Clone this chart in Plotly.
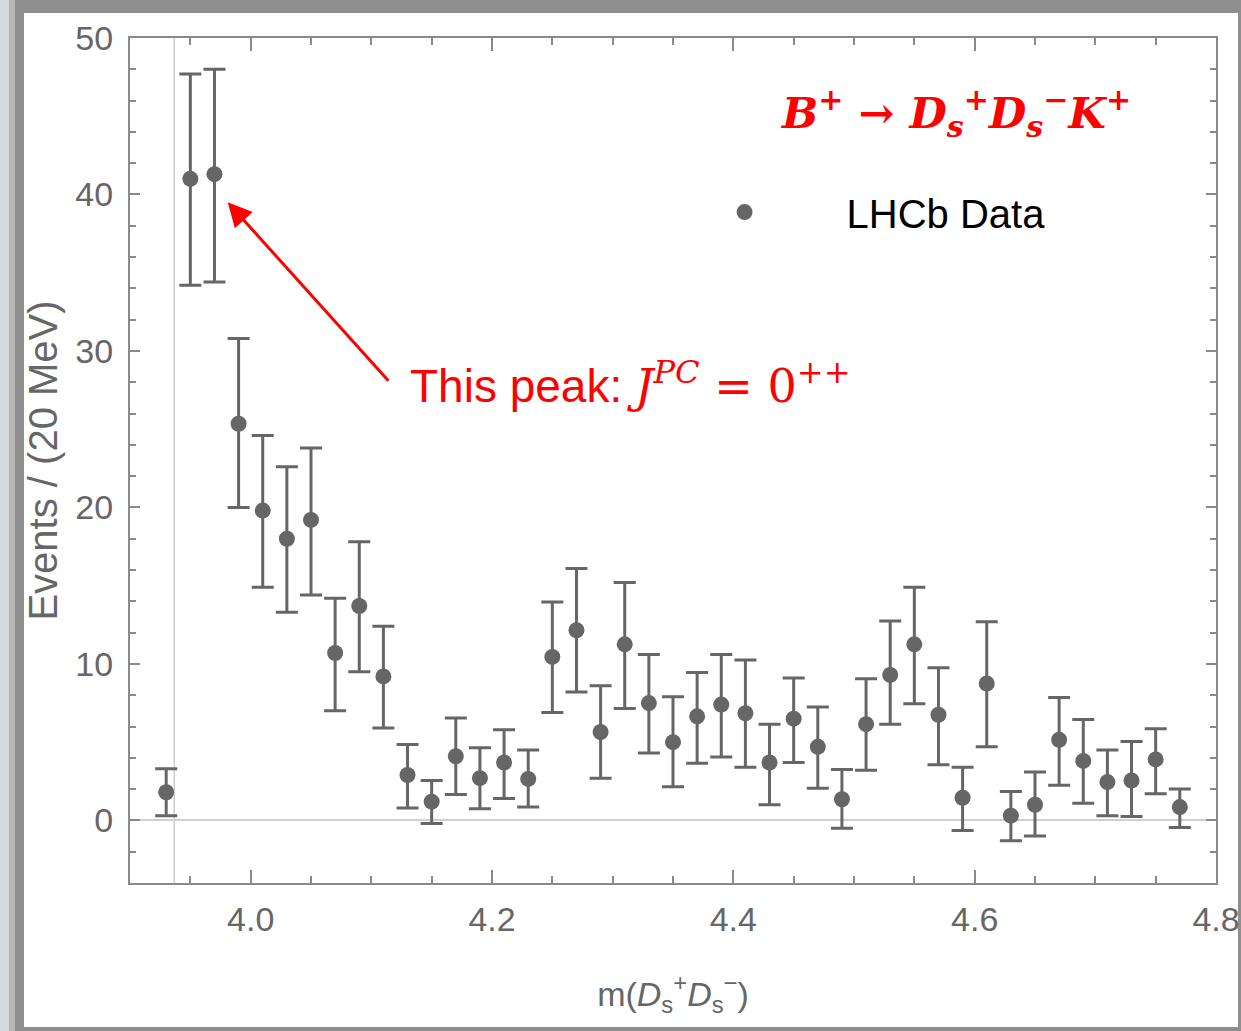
import plotly.graph_objects as go

# ---- data ----
mass = [3.93, 3.95, 3.97, 3.99, 4.01, 4.03, 4.05, 4.07, 4.09, 4.11,
        4.13, 4.15, 4.17, 4.19, 4.21, 4.23, 4.25, 4.27, 4.29, 4.31,
        4.33, 4.35, 4.37, 4.39, 4.41, 4.43, 4.45, 4.47, 4.49, 4.51,
        4.53, 4.55, 4.57, 4.59, 4.61, 4.63, 4.65, 4.67, 4.69, 4.71,
        4.73, 4.75, 4.77]
events = [1.8, 41.0, 41.3, 25.35, 19.8, 18.0, 19.2, 10.7, 13.7, 9.2,
          2.9, 1.2, 4.1, 2.7, 3.7, 2.65, 10.45, 12.15, 5.65, 11.25,
          7.5, 5.0, 6.65, 7.4, 6.85, 3.7, 6.5, 4.7, 1.35, 6.15,
          9.3, 11.25, 6.75, 1.45, 8.75, 0.3, 1.0, 5.15, 3.8, 2.45,
          2.55, 3.9, 0.85]
upper = [3.3, 47.7, 48.0, 30.8, 24.6, 22.6, 23.8, 14.2, 17.8, 12.4,
         4.85, 2.55, 6.55, 4.65, 5.8, 4.5, 13.95, 16.1, 8.6, 15.2,
         10.6, 7.9, 9.45, 10.6, 10.25, 6.15, 9.1, 7.25, 3.25, 9.05,
         12.75, 14.9, 9.75, 3.4, 12.7, 1.85, 3.1, 7.85, 6.45, 4.5,
         5.05, 5.85, 2.0]
lower = [0.3, 34.2, 34.4, 20.0, 14.9, 13.3, 14.4, 7.0, 9.5, 5.9,
         0.8, -0.2, 1.65, 0.75, 1.4, 0.85, 6.9, 8.2, 2.7, 7.15,
         4.3, 2.15, 3.65, 4.05, 3.4, 1.0, 3.7, 2.05, -0.5, 3.2,
         6.15, 7.45, 3.55, -0.65, 4.7, -1.3, -1.0, 2.25, 1.1, 0.3,
         0.25, 1.7, -0.45]
threshold = 3.9367  # 2 m(Ds)
x_ticks = [4.0, 4.2, 4.4, 4.6, 4.8]
y_ticks = [0, 10, 20, 30, 40, 50]

err_plus = [u - v for u, v in zip(upper, events)]
err_minus = [v - l for v, l in zip(events, lower)]

GREY = "#666666"
AXC = "#8a8a8a"

fig = go.Figure()
fig.add_trace(go.Scatter(
    x=mass, y=events, mode="markers", name="LHCb Data",
    marker=dict(color=GREY, size=16),
    error_y=dict(type="data", symmetric=False, array=err_plus,
                 arrayminus=err_minus, color=GREY, thickness=3, width=11),
))

# background frame (grey border + white card)
shapes = [
    dict(type="rect", xref="paper", yref="paper", x0=-0.120, x1=-0.111,
         y0=-0.2, y1=1.1, fillcolor="#d6d9dd", line_width=0, layer="below"),
    dict(type="rect", xref="paper", yref="paper", x0=-0.111, x1=-0.1059,
         y0=-0.2, y1=1.1, fillcolor="#b8b8b8", line_width=0, layer="below"),
    dict(type="rect", xref="paper", yref="paper", x0=-0.0976, x1=1.0203,
         y0=-0.1704, y1=1.0296, fillcolor="white", line_width=0, layer="below"),
    dict(type="line", xref="x", yref="paper", x0=threshold, x1=threshold,
         y0=0, y1=1, line=dict(color="#cfcfcf", width=1.5), layer="below"),
]

fig.update_layout(
    width=1241, height=1031,
    margin=dict(l=130, r=25, t=38, b=148),
    paper_bgcolor="#8e8e8e", plot_bgcolor="white",
    shapes=shapes,
    showlegend=True,
    legend=dict(x=0.472, y=0.794, xanchor="left", yanchor="middle",
                bgcolor="rgba(0,0,0,0)", itemwidth=194,
                font=dict(family="Liberation Sans", size=40, color="black")),
    font=dict(family="Liberation Sans", color=GREY),
)

fig.update_xaxes(
    range=[3.9, 4.8], tickvals=x_ticks, ticktext=[f"{v:.1f}" for v in x_ticks],
    ticks="inside", ticklen=13, tickwidth=1.5, tickcolor=AXC,
    minor=dict(dtick=0.05, tick0=3.9, ticks="inside", ticklen=7, tickcolor=AXC, tickwidth=1.5),
    showline=True, linecolor=AXC, linewidth=2, mirror="ticks",
    showgrid=False, zeroline=False, automargin=False,
    tickfont=dict(size=34, color=GREY), ticklabelstandoff=5,
    title=dict(text="m(<i>D</i><sub>s</sub><sup>+</sup><i>D</i><sub>s</sub><sup>−</sup>)",
               font=dict(size=34, color=GREY), standoff=45),
)
fig.update_yaxes(
    range=[-4, 50], tickvals=y_ticks,
    ticks="inside", ticklen=10, tickwidth=1.5, tickcolor=AXC,
    minor=dict(dtick=2, tick0=0, ticks="inside", ticklen=6, tickcolor=AXC, tickwidth=1.5),
    showline=True, linecolor=AXC, linewidth=2, mirror="ticks",
    showgrid=False, zeroline=True, zerolinecolor="#d0d0d0", zerolinewidth=1.5,
    automargin=False,
    tickfont=dict(size=34, color=GREY), ticklabelstandoff=8,
    title=dict(text="Events / (20 MeV)", font=dict(size=40, color=GREY), standoff=5),
)

RED = "#ff0000"
fig.add_annotation(
    xref="paper", yref="paper", x=(778 - 130) / 1086, y=(883 - 113) / 845,
    xanchor="left", yanchor="middle", showarrow=False,
    text="<b><i>B</i><sup>+</sup> → <i>D</i><sub><i>s</i></sub><sup>+</sup>"
         "<i>D</i><sub><i>s</i></sub><sup>−</sup><i>K</i><sup>+</sup></b>",
    font=dict(family="DejaVu Serif", size=43, color=RED),
)
fig.add_annotation(
    xref="paper", yref="paper", x=(408 - 130) / 1086, y=(883 - 383) / 845,
    xanchor="left", yanchor="middle", showarrow=False,
    text="This peak: <span style='font-family:DejaVu Serif'><i>J</i><sup><i>PC</i></sup> = 0<sup>++</sup></span>",
    font=dict(family="Liberation Sans", size=46, color=RED),
)
fig.add_annotation(
    xref="x", yref="y", x=mass[2] + 0.011, y=39.5,
    ax=162, ay=180, axref="pixel", ayref="pixel",
    text="", showarrow=True, arrowhead=2, arrowsize=1.6, arrowwidth=3,
    arrowcolor=RED, standoff=0,
)

fig.write_html("out.html")
